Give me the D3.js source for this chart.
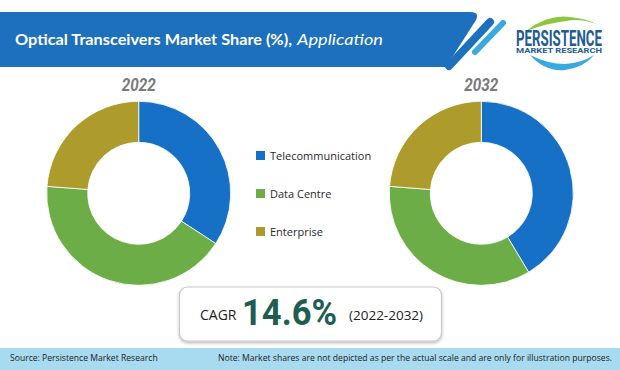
<!DOCTYPE html>
<html><head><meta charset="utf-8">
<script src="https://cdn.jsdelivr.net/npm/d3@7"></script>
<style>html,body{margin:0;padding:0;background:#fff;}svg{display:block;}</style>
</head><body>
<svg id="chart" width="620" height="370"></svg>
<script>
const categories = ["Telecommunication", "Data Centre", "Enterprise"];
const years = ["2022", "2032"];
const shares2022 = [34.2, 42.0, 23.8];
const shares2032 = [41.4, 34.8, 23.8];
const colors = ["#1570c6", "#6cad47", "#ad9c2c"];
const cagrValue = "14.6%";
const cagrPeriod = "(2022-2032)";

const svg = d3.select("#chart");

// header band
svg.append("path")
  .attr("d", "M0,12 L470,12 Q480,12 476,20 L446,67 L0,67 Z")
  .attr("fill", "#1d70bd");
svg.append("line").attr("x1", 449).attr("y1", 66).attr("x2", 490).attr("y2", 22)
  .attr("stroke", "#1d70bd").attr("stroke-width", 8).attr("stroke-linecap", "round");
svg.append("line").attr("x1", 475).attr("y1", 52).attr("x2", 503).attr("y2", 23)
  .attr("stroke", "#3aa9e0").attr("stroke-width", 6).attr("stroke-linecap", "round");

const titleFont = "Lato, 'Open Sans', sans-serif";
svg.append("text").attr("x", 15).attr("y", 44.5)
  .attr("fill", "#fff").attr("font-family", titleFont).attr("font-size", 16)
  .attr("font-weight", "bold").attr("textLength", 277).attr("lengthAdjust", "spacingAndGlyphs")
  .text("Optical Transceivers Market Share (%),");
svg.append("text").attr("x", 297).attr("y", 44.5)
  .attr("fill", "#fff").attr("font-family", titleFont).attr("font-size", 16)
  .attr("font-style", "italic").attr("textLength", 86).attr("lengthAdjust", "spacingAndGlyphs")
  .text("Application");

// logo
const logo = svg.append("g");
logo.append("path").attr("d", "M526,31 Q548,14 570,17 Q588,19 596,24 Q580,18 566,21 Q548,23 526,31 Z").attr("fill", "#8cc63f");
logo.append("path").attr("d", "M530,55 Q545,72 565,70 Q585,67 594,55 Q582,63 565,64 Q548,64 530,55 Z").attr("fill", "#3aa9e0");
logo.append("text").attr("x", 516).attr("y", 45.8).attr("textLength", 86).attr("lengthAdjust", "spacingAndGlyphs")
  .attr("font-family", "Roboto, sans-serif").attr("font-weight", "bold").attr("font-size", 22)
  .attr("fill", "#1f5c93").text("PERSISTENCE");
logo.append("text").attr("x", 516).attr("y", 53.3).attr("textLength", 86).attr("lengthAdjust", "spacingAndGlyphs")
  .attr("font-family", "Roboto, sans-serif").attr("font-weight", "bold").attr("font-size", 7.2)
  .attr("fill", "#1f5c93").text("MARKET RESEARCH");

// donuts
const pie = d3.pie().sort(null).value(d => d);
const arc = d3.arc().innerRadius(51).outerRadius(92);
const donuts = [
  {year: years[0], values: shares2022, cx: 138.7},
  {year: years[1], values: shares2032, cx: 481.3}
];
donuts.forEach(dn => {
  const g = svg.append("g").attr("transform", `translate(${dn.cx},193.3)`);
  g.selectAll("path").data(pie(dn.values)).enter().append("path")
    .attr("d", arc).attr("fill", (d, i) => colors[i])
    .attr("stroke", "#fff").attr("stroke-width", 0.8);
  svg.append("text").attr("x", dn.cx).attr("y", 91).attr("text-anchor", "middle")
    .attr("font-family", "Roboto, sans-serif").attr("font-weight", "bold").attr("font-style", "italic")
    .attr("font-size", 18).attr("textLength", 34).attr("lengthAdjust", "spacingAndGlyphs")
    .attr("fill", "#7a7a7a").text(dn.year);
});

// legend
const ly = d3.scalePoint().domain(categories).range([155.5, 231.5]);
const leg = svg.append("g");
categories.forEach((c, i) => {
  leg.append("rect").attr("x", 256).attr("y", ly(c) - 4.5).attr("width", 9).attr("height", 9).attr("fill", colors[i]);
  leg.append("text").attr("x", 270).attr("y", ly(c) + 4.2)
    .attr("font-family", "'Open Sans', 'Noto Sans', sans-serif").attr("font-size", 11)
    .attr("fill", "#2a2a2a").text(c);
});

// CAGR box
const defs = svg.append("defs");
const f = defs.append("filter").attr("id", "sh").attr("x", "-10%").attr("y", "-20%").attr("width", "120%").attr("height", "150%");
f.append("feDropShadow").attr("dx", 0).attr("dy", 1.5).attr("stdDeviation", 1.5).attr("flood-color", "#000").attr("flood-opacity", 0.3);
svg.append("rect").attr("x", 179.5).attr("y", 287).attr("width", 262).attr("height", 54).attr("rx", 8)
  .attr("fill", "#fff").attr("stroke", "#c9c9c9").attr("stroke-width", 1.2).attr("filter", "url(#sh)");
svg.append("text").attr("x", 200).attr("y", 319.5)
  .attr("font-family", "'Open Sans', sans-serif").attr("font-size", 14).attr("fill", "#222").text("CAGR");
svg.append("text").attr("x", 242).attr("y", 324.5).attr("textLength", 95).attr("lengthAdjust", "spacingAndGlyphs")
  .attr("font-family", "Roboto, sans-serif").attr("font-weight", "bold").attr("font-size", 37)
  .attr("fill", "#1d5e50").text(cagrValue);
svg.append("text").attr("x", 349).attr("y", 319.5)
  .attr("font-family", "'Open Sans', sans-serif").attr("font-size", 13.5).attr("fill", "#222").text(cagrPeriod);

// footer
svg.append("rect").attr("x", 0).attr("y", 348).attr("width", 620).attr("height", 22).attr("fill", "#a9dbf0");
svg.append("text").attr("x", 10).attr("y", 361)
  .attr("font-family", "'Open Sans', 'Noto Sans', sans-serif").attr("font-size", 8.6).attr("fill", "#222")
  .text("Source: Persistence Market Research");
svg.append("text").attr("x", 612).attr("y", 361).attr("text-anchor", "end")
  .attr("font-family", "'Open Sans', 'Noto Sans', sans-serif").attr("font-size", 8.6).attr("fill", "#222")
  .attr("textLength", 394).attr("lengthAdjust", "spacingAndGlyphs")
  .text("Note: Market shares are not depicted as per the actual scale and are only for illustration purposes.");
</script>
</body></html>
